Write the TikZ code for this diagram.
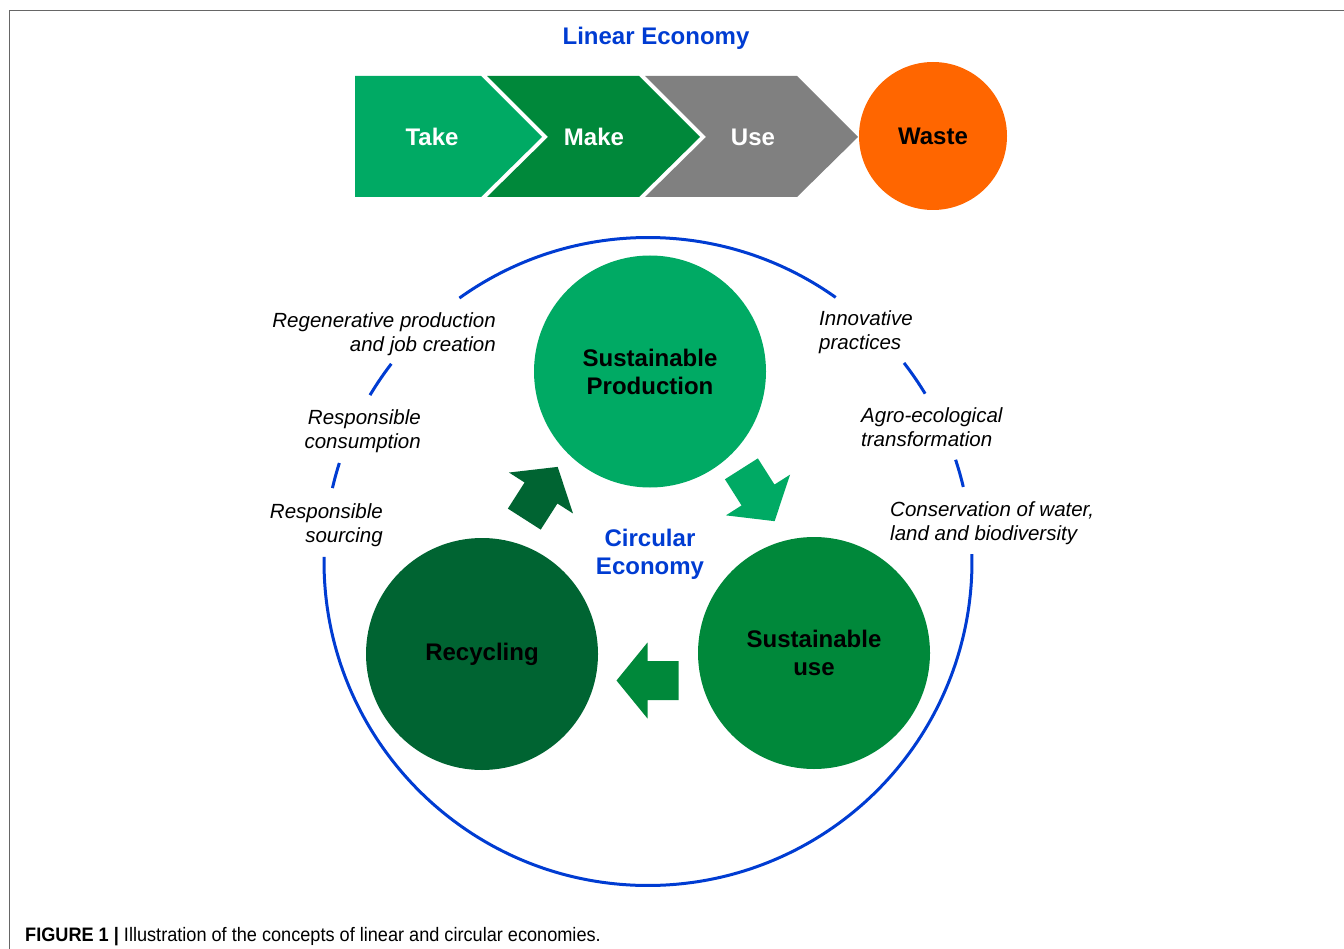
\documentclass[tikz,border=0pt]{standalone}
\usepackage{fontspec}
\setmainfont{Liberation Sans}
\newfontfamily\capfont[FakeStretch=0.93]{Liberation Sans}
\usetikzlibrary{calc}
\definecolor{lightgr}{RGB}{0,170,100}
\definecolor{midgr}{RGB}{0,136,58}
\definecolor{darkgr}{RGB}{0,100,50}
\definecolor{usegray}{RGB}{128,128,128}
\definecolor{wasteor}{RGB}{255,102,0}
\definecolor{ceblue}{RGB}{0,60,210}
\newcommand{\blockarrow}[3]{\fill[#3,shift={#1},rotate=#2] (-31,-19.5) -- (0,-19.5) -- (0,-38) -- (31,0) -- (0,38) -- (0,19.5) -- (-31,19.5) -- cycle;}

\begin{document}
\begin{tikzpicture}[x=1pt,y=-1pt,
  title/.style={font=\fontsize{24}{28}\selectfont\bfseries, text=ceblue, align=center},
  chevtext/.style={font=\fontsize{24}{28}\selectfont\bfseries, text=white},
  disc/.style={circle, inner sep=0pt, minimum size=232pt, align=center, font=\fontsize{24}{28}\selectfont\bfseries},
  lbl/.style={font=\fontsize{20.5}{24}\selectfont\itshape, inner sep=0pt},
  ring/.style={draw=ceblue, line width=3pt}]
  \useasboundingbox (0,0) rectangle (1344,949);
  \draw[gray!80!black, line width=1.5pt] (1344,10.5) -- (9.5,10.5) -- (9.5,949);
  \node[title] (linear) at (656,38) {Linear Economy};
  \fill[lightgr] (355,76) -- (481,76) -- (542,137) -- (481,197) -- (355,197) -- cycle;
  \fill[midgr] (487,76) -- (639,76) -- (700,137) -- (639,197) -- (487,197) -- (548,137) -- cycle;
  \fill[usegray] (645,76) -- (797,76) -- (858,137) -- (797,197) -- (645,197) -- (706,137) -- cycle;
  \node[chevtext] (take) at (432,137) {Take};
  \node[chevtext] (make) at (594,137) {Make};
  \node[chevtext] (use) at (753,137) {Use};
  \node[circle, fill=wasteor, minimum size=148pt, inner sep=0pt, font=\fontsize{24}{28}\selectfont\bfseries] (waste) at (933,136) {Waste};

  \coordinate (ce) at (648,561.5);
  \draw[ring] (ce) ++(-54.6:324) arc[start angle=-54.6, end angle=-125.6, radius=324];
  \draw[ring] (ce) ++(-142.4:324) arc[start angle=-142.4, end angle=-149.1, radius=324];
  \draw[ring] (ce) ++(-162.3:324) arc[start angle=-162.3, end angle=-166.9, radius=324];
  \draw[ring] (ce) ++(-31.2:324) arc[start angle=-31.2, end angle=-37.8, radius=324];
  \draw[ring] (ce) ++(-13.3:324) arc[start angle=-13.3, end angle=-18.3, radius=324];
  \draw[ring] (ce) ++(180.8:324) arc[start angle=180.8, end angle=-1.3, radius=324];

  \node[disc, fill=lightgr] (prod) at (650,371.5) {Sustainable\\Production};
  \node[disc, fill=midgr] (suse) at (814,653) {Sustainable\\use};
  \node[disc, fill=darkgr] (recyc) at (482,654) {Recycling};
  \blockarrow{(541,493)}{57.4}{darkgr}
  \blockarrow{(758,495)}{-57.6}{lightgr}
  \blockarrow{(647.5,680.5)}{180}{midgr}
  \node[title] (circ) at (650,554) {Circular\\Economy};

  \node[lbl, anchor=east, align=right] (regen) at (496,334) {Regenerative production\\and job creation};
  \node[lbl, anchor=east, align=right] (cons) at (421,431) {Responsible\\consumption};
  \node[lbl, anchor=east, align=right] (sourc) at (383,525) {Responsible\\sourcing};
  \node[lbl, anchor=west, align=left] (innov) at (819,332) {Innovative\\practices};
  \node[lbl, anchor=west, align=left] (agro) at (861,427) {Agro-ecological\\transformation};
  \node[lbl, anchor=west, align=left] (conserv) at (890,523) {Conservation of water,\\land and biodiversity};

  \node[anchor=base west, inner sep=0pt, font=\capfont\fontsize{19.5}{22}\selectfont] (cap) at (25,941) {\textbf{FIGURE 1 |} Illustration of the concepts of linear and circular economies.};
\end{tikzpicture}
\end{document}
